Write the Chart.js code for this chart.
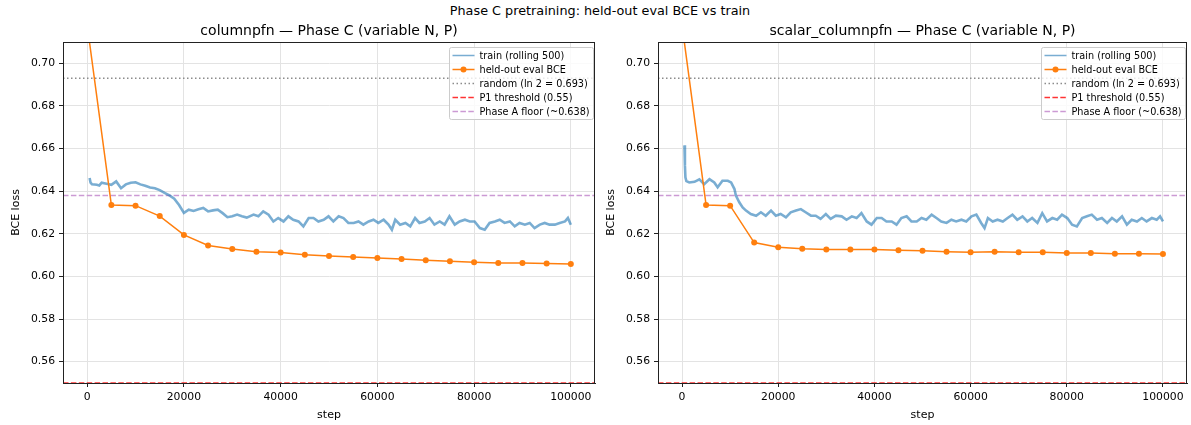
<!DOCTYPE html>
<html lang="en">
<head>
<meta charset="UTF-8" />
<title>Phase C pretraining: held-out eval BCE vs train</title>
<script src="https://cdn.jsdelivr.net/npm/chart.js@4"></script>
<style>
  body { margin: 0; background: #fff; overflow: hidden; }
  #wrap { position: relative; width: 1191px; height: 425px; }
  #suptitle { position: absolute; top: 3px; left: 0; width: 1200px; text-align: center;
              font: 12.8px "DejaVu Sans"; line-height: 15px; color: #000; }
  canvas { position: absolute; top: 0; }
</style>
</head>
<body>
<div id="wrap">
  <div id="suptitle">Phase C pretraining: held-out eval BCE vs train</div>
  <canvas id="left" width="600" height="425" style="left:0"></canvas>
  <canvas id="right" width="591" height="425" style="left:600px"></canvas>
</div>

<script>
// ---- data ----
const panelTitles = ["columnpfn \u2014 Phase C (variable N, P)", "scalar_columnpfn \u2014 Phase C (variable N, P)"];
const seriesLabels = ["train (rolling 500)", "held-out eval BCE", "random (ln 2 = 0.693)", "P1 threshold (0.55)", "Phase A floor (~0.638)"];

const xLimits = [-5000, 105000];
const yLimits = [0.55, 0.71];
const xTicks = [0, 20000, 40000, 60000, 80000, 100000];
const yTicks = [0.56, 0.58, 0.60, 0.62, 0.64, 0.66, 0.68, 0.70];

const randomLoss = 0.693;
const p1Threshold = 0.55;
const phaseAFloor = 0.638;

const evalSteps = [0, 5000, 10000, 15000, 20000, 25000, 30000, 35000, 40000, 45000, 50000,
  55000, 60000, 65000, 70000, 75000, 80000, 85000, 90000, 95000, 100000];
const evalColumnpfn = [0.718, 0.6335, 0.6332, 0.6283, 0.6195, 0.6145, 0.6129, 0.6116, 0.6112, 0.6102, 0.6096,
  0.6091, 0.6087, 0.6082, 0.6076, 0.6071, 0.6066, 0.6063, 0.6063, 0.6061, 0.6058];
const evalScalar = [0.718, 0.6335, 0.6332, 0.6159, 0.6137, 0.6130, 0.6126, 0.6126, 0.6126, 0.6123, 0.6120,
  0.6116, 0.6113, 0.6116, 0.6113, 0.6113, 0.6110, 0.6110, 0.6107, 0.6107, 0.6105];

const trainStepsColumnpfn = [500, 700, 1000, 2000, 2500, 3000, 4000, 5000, 6000, 7000, 8000, 9000, 10000,
  11000, 12000, 13000, 14000, 15000, 16000, 17000, 18000, 19000, 20000, 21000, 22000, 23000, 24000,
  25000, 26000, 27000, 28000, 29000, 30000, 31000, 32000, 33000, 34400, 35400, 36400, 37500, 38500,
  39500, 40600, 41600, 42600, 43700, 44700, 45800, 46800, 47800, 48900, 49900, 50900, 52000, 53000,
  54000, 55100, 56100, 57100, 58200, 59200, 60200, 61300, 62300, 63000, 63700, 64700, 65800, 66800,
  67800, 68700, 69800, 70800, 71800, 72900, 73900, 74900, 76000, 77000, 78100, 79100, 80100, 81200,
  82200, 83200, 84300, 85300, 86300, 87400, 88400, 89400, 90500, 91500, 92500, 93600, 94600, 95600,
  96700, 97700, 98800, 99400, 100000];
const trainColumnpfn = [0.6462, 0.6440, 0.6432, 0.6430, 0.6427, 0.6440, 0.6435, 0.6430, 0.6446, 0.6414, 0.6432, 0.6440, 0.6442,
  0.6432, 0.6425, 0.6417, 0.6414, 0.6405, 0.6392, 0.6380, 0.6365, 0.6335, 0.6298, 0.6313, 0.6307, 0.6315, 0.6321,
  0.6305, 0.6310, 0.6313, 0.6297, 0.6278, 0.6282, 0.6290, 0.6282, 0.6276, 0.6290, 0.6282, 0.6305, 0.6290, 0.6258,
  0.6274, 0.6258, 0.6282, 0.6266, 0.6258, 0.6235, 0.6274, 0.6274, 0.6258, 0.6266, 0.6282, 0.6258, 0.6282, 0.6274,
  0.6251, 0.6251, 0.6258, 0.6243, 0.6258, 0.6266, 0.6251, 0.6266, 0.6243, 0.6219, 0.6266, 0.6243, 0.6251, 0.6235,
  0.6274, 0.6251, 0.6258, 0.6274, 0.6243, 0.6258, 0.6243, 0.6282, 0.6243, 0.6258, 0.6266, 0.6258, 0.6258, 0.6227,
  0.6219, 0.6251, 0.6258, 0.6266, 0.6251, 0.6258, 0.6235, 0.6251, 0.6243, 0.6251, 0.6227, 0.6243, 0.6251, 0.6243,
  0.6243, 0.6251, 0.6258, 0.6274, 0.6243];

const trainStepsScalar = [500, 600, 700, 900, 1500, 2600, 3600, 4600, 5700, 6700, 7400, 8400, 9500, 10200,
  10900, 11200, 11900, 12600, 13300, 14300, 15400, 16400, 17400, 18500, 19500, 20500, 21600, 22600, 23700,
  24700, 25700, 26800, 27800, 28800, 29900, 30900, 32000, 33200, 34200, 35300, 36300, 37300, 38400, 39400,
  40500, 41500, 42500, 43600, 44600, 45600, 46700, 47700, 48800, 49800, 50800, 51900, 52900, 53900, 55000,
  56000, 57000, 58100, 59100, 60200, 61200, 62200, 62900, 63600, 64600, 65600, 66700, 67700, 68700, 69700,
  70800, 71800, 72800, 73900, 74900, 75900, 77000, 78000, 79000, 80100, 81100, 82100, 83200, 84200, 85200,
  86300, 87300, 88400, 89400, 90400, 91500, 92500, 93500, 94600, 95600, 96600, 97700, 98700, 99400, 100000];
const trainScalar = [0.6615, 0.6520, 0.6465, 0.6447, 0.6441, 0.6444, 0.6456, 0.6433, 0.6456, 0.6441, 0.6418, 0.6449, 0.6449, 0.6441,
  0.6410, 0.6379, 0.6348, 0.6324, 0.6309, 0.6293, 0.6285, 0.6301, 0.6285, 0.6309, 0.6285, 0.6293, 0.6277, 0.6301, 0.6309,
  0.6316, 0.6301, 0.6285, 0.6285, 0.6270, 0.6293, 0.6270, 0.6285, 0.6282, 0.6266, 0.6282, 0.6274, 0.6297, 0.6258, 0.6243,
  0.6274, 0.6274, 0.6258, 0.6258, 0.6243, 0.6274, 0.6282, 0.6258, 0.6258, 0.6274, 0.6266, 0.6290, 0.6274, 0.6258, 0.6251,
  0.6266, 0.6258, 0.6266, 0.6258, 0.6282, 0.6290, 0.6251, 0.6227, 0.6274, 0.6258, 0.6266, 0.6258, 0.6274, 0.6290, 0.6266,
  0.6282, 0.6258, 0.6274, 0.6251, 0.6297, 0.6258, 0.6274, 0.6266, 0.6290, 0.6274, 0.6243, 0.6235, 0.6274, 0.6282, 0.6290,
  0.6266, 0.6274, 0.6251, 0.6274, 0.6258, 0.6282, 0.6243, 0.6266, 0.6258, 0.6274, 0.6258, 0.6274, 0.6266, 0.6282, 0.6258];

// ---- drawing ----
const FONT = '"DejaVu Sans"';

function pairs(xs, ys) {
  return xs.map((x, i) => ({ x: x, y: ys[i] }));
}

function hline(v) {
  return [{ x: xLimits[0], y: v }, { x: xLimits[1], y: v }];
}

// frame, panel title and the in-axes legend (matplotlib style)
const panelDecor = {
  id: 'panelDecor',
  afterDatasetsDraw(chart) {
    const { ctx, chartArea: a } = chart;
    ctx.save();
    ctx.strokeStyle = '#222';
    ctx.lineWidth = 1;
    ctx.strokeRect(Math.round(a.left) + 0.5, Math.round(a.top) + 0.5,
      Math.round(a.right - a.left) - 1, Math.round(a.bottom - a.top));
    ctx.restore();
  },
  afterDraw(chart, args, opts) {
    const { ctx, chartArea: a } = chart;
    ctx.save();
    ctx.fillStyle = '#000';
    ctx.font = '14px ' + FONT;
    ctx.textAlign = 'center';
    ctx.textBaseline = 'middle';
    ctx.fillText(opts.title, (a.left + a.right) / 2, 31);

    // legend
    const sets = chart.data.datasets;
    ctx.font = '9.7px ' + FONT;
    let w = 0;
    sets.forEach(d => { w = Math.max(w, ctx.measureText(d.label).width); });
    const rowH = 14;
    const boxW = Math.round(30 + w + 4);
    const boxH = 8 + rowH * (sets.length - 1) + 8;
    const x0 = Math.round(a.right - 2 - boxW) + 0.5;
    const y0 = Math.round(a.top + 5) + 0.5;
    ctx.beginPath();
    ctx.roundRect(x0, y0, boxW, boxH, 2);
    ctx.fillStyle = 'rgba(255,255,255,0.8)';
    ctx.fill();
    ctx.strokeStyle = '#cccccc';
    ctx.lineWidth = 1;
    ctx.stroke();

    sets.forEach((d, i) => {
      const cy = y0 + 8 + i * rowH;
      ctx.save();
      ctx.strokeStyle = d.borderColor;
      ctx.lineWidth = Math.min(d.borderWidth, 1.5);
      ctx.setLineDash(d.borderDash || []);
      ctx.beginPath();
      ctx.moveTo(x0 + 3, cy);
      ctx.lineTo(x0 + 25, cy);
      ctx.stroke();
      if (d.pointRadius > 0) {
        ctx.fillStyle = d.pointBackgroundColor;
        ctx.beginPath();
        ctx.arc(x0 + 14, cy, d.pointRadius, 0, Math.PI * 2);
        ctx.fill();
      }
      ctx.restore();
      ctx.fillStyle = '#000';
      ctx.textAlign = 'left';
      ctx.textBaseline = 'middle';
      ctx.fillText(d.label, x0 + 30, cy + 0.5);
    });
    ctx.restore();
  }
};

function makePanel(canvasId, title, trainSteps, trainLoss, evalLoss, yAxisWidth, padRight, yTitlePad) {
  const tickFont = { family: FONT, size: 10.8 };
  const gridOpts = { color: '#e3e3e3', lineWidth: 1, tickColor: '#222', tickLength: 4, tickWidth: 1 };
  return new Chart(document.getElementById(canvasId), {
    type: 'line',
    data: {
      datasets: [
        { label: seriesLabels[0], data: pairs(trainSteps, trainLoss), borderColor: 'rgba(31,119,180,0.6)',
          borderWidth: 2.6, pointRadius: 0, order: 2 },
        { label: seriesLabels[1], data: pairs(evalSteps, evalLoss), borderColor: '#ff7f0e',
          borderWidth: 1.5, pointRadius: 3, pointBackgroundColor: '#ff7f0e', pointBorderWidth: 0, order: 1 },
        { label: seriesLabels[2], data: hline(randomLoss), borderColor: '#8c8c8c',
          borderWidth: 1.5, borderDash: [1.5, 2.5], pointRadius: 0, order: 3 },
        { label: seriesLabels[3], data: hline(p1Threshold), borderColor: 'rgba(255,0,0,0.8)',
          borderWidth: 1.5, borderDash: [5.5, 2.4], pointRadius: 0, order: 4 },
        { label: seriesLabels[4], data: hline(phaseAFloor), borderColor: '#cc9ad4',
          borderWidth: 1.5, borderDash: [5.5, 2.4], pointRadius: 0, order: 5 }
      ]
    },
    options: {
      responsive: false,
      animation: false,
      devicePixelRatio: 1,
      layout: { padding: { top: 42, right: padRight, left: 0, bottom: 0 } },
      plugins: {
        legend: { display: false },
        tooltip: { enabled: false },
        panelDecor: { title: title }
      },
      scales: {
        x: {
          type: 'linear', min: xLimits[0], max: xLimits[1],
          afterBuildTicks: s => { s.ticks = xTicks.map(v => ({ value: v })); },
          afterFit: s => { s.height = 42; },
          ticks: { font: tickFont, color: '#000', padding: 4, maxRotation: 0, callback: v => String(v) },
          grid: gridOpts,
          border: { color: '#222', width: 1 },
          title: { display: true, text: 'step', font: { family: FONT, size: 11 }, color: '#000',
                   padding: { top: 0, bottom: 3.4 } }
        },
        y: {
          min: yLimits[0], max: yLimits[1],
          afterBuildTicks: s => { s.ticks = yTicks.map(v => ({ value: v })); },
          afterFit: s => { s.width = yAxisWidth; },
          ticks: { font: tickFont, color: '#000', padding: 4, callback: v => v.toFixed(2) },
          grid: gridOpts,
          border: { color: '#222', width: 1 },
          title: { display: true, text: 'BCE loss', font: { family: FONT, size: 11 }, color: '#000',
                   padding: { top: yTitlePad, bottom: 0 } }
        }
      }
    },
    plugins: [panelDecor]
  });
}

makePanel('left', panelTitles[0], trainStepsColumnpfn, trainColumnpfn, evalColumnpfn, 63, 5, 9.4);
makePanel('right', panelTitles[1], trainStepsScalar, trainScalar, evalScalar, 58, 2, 4.4);
</script>
</body>
</html>
